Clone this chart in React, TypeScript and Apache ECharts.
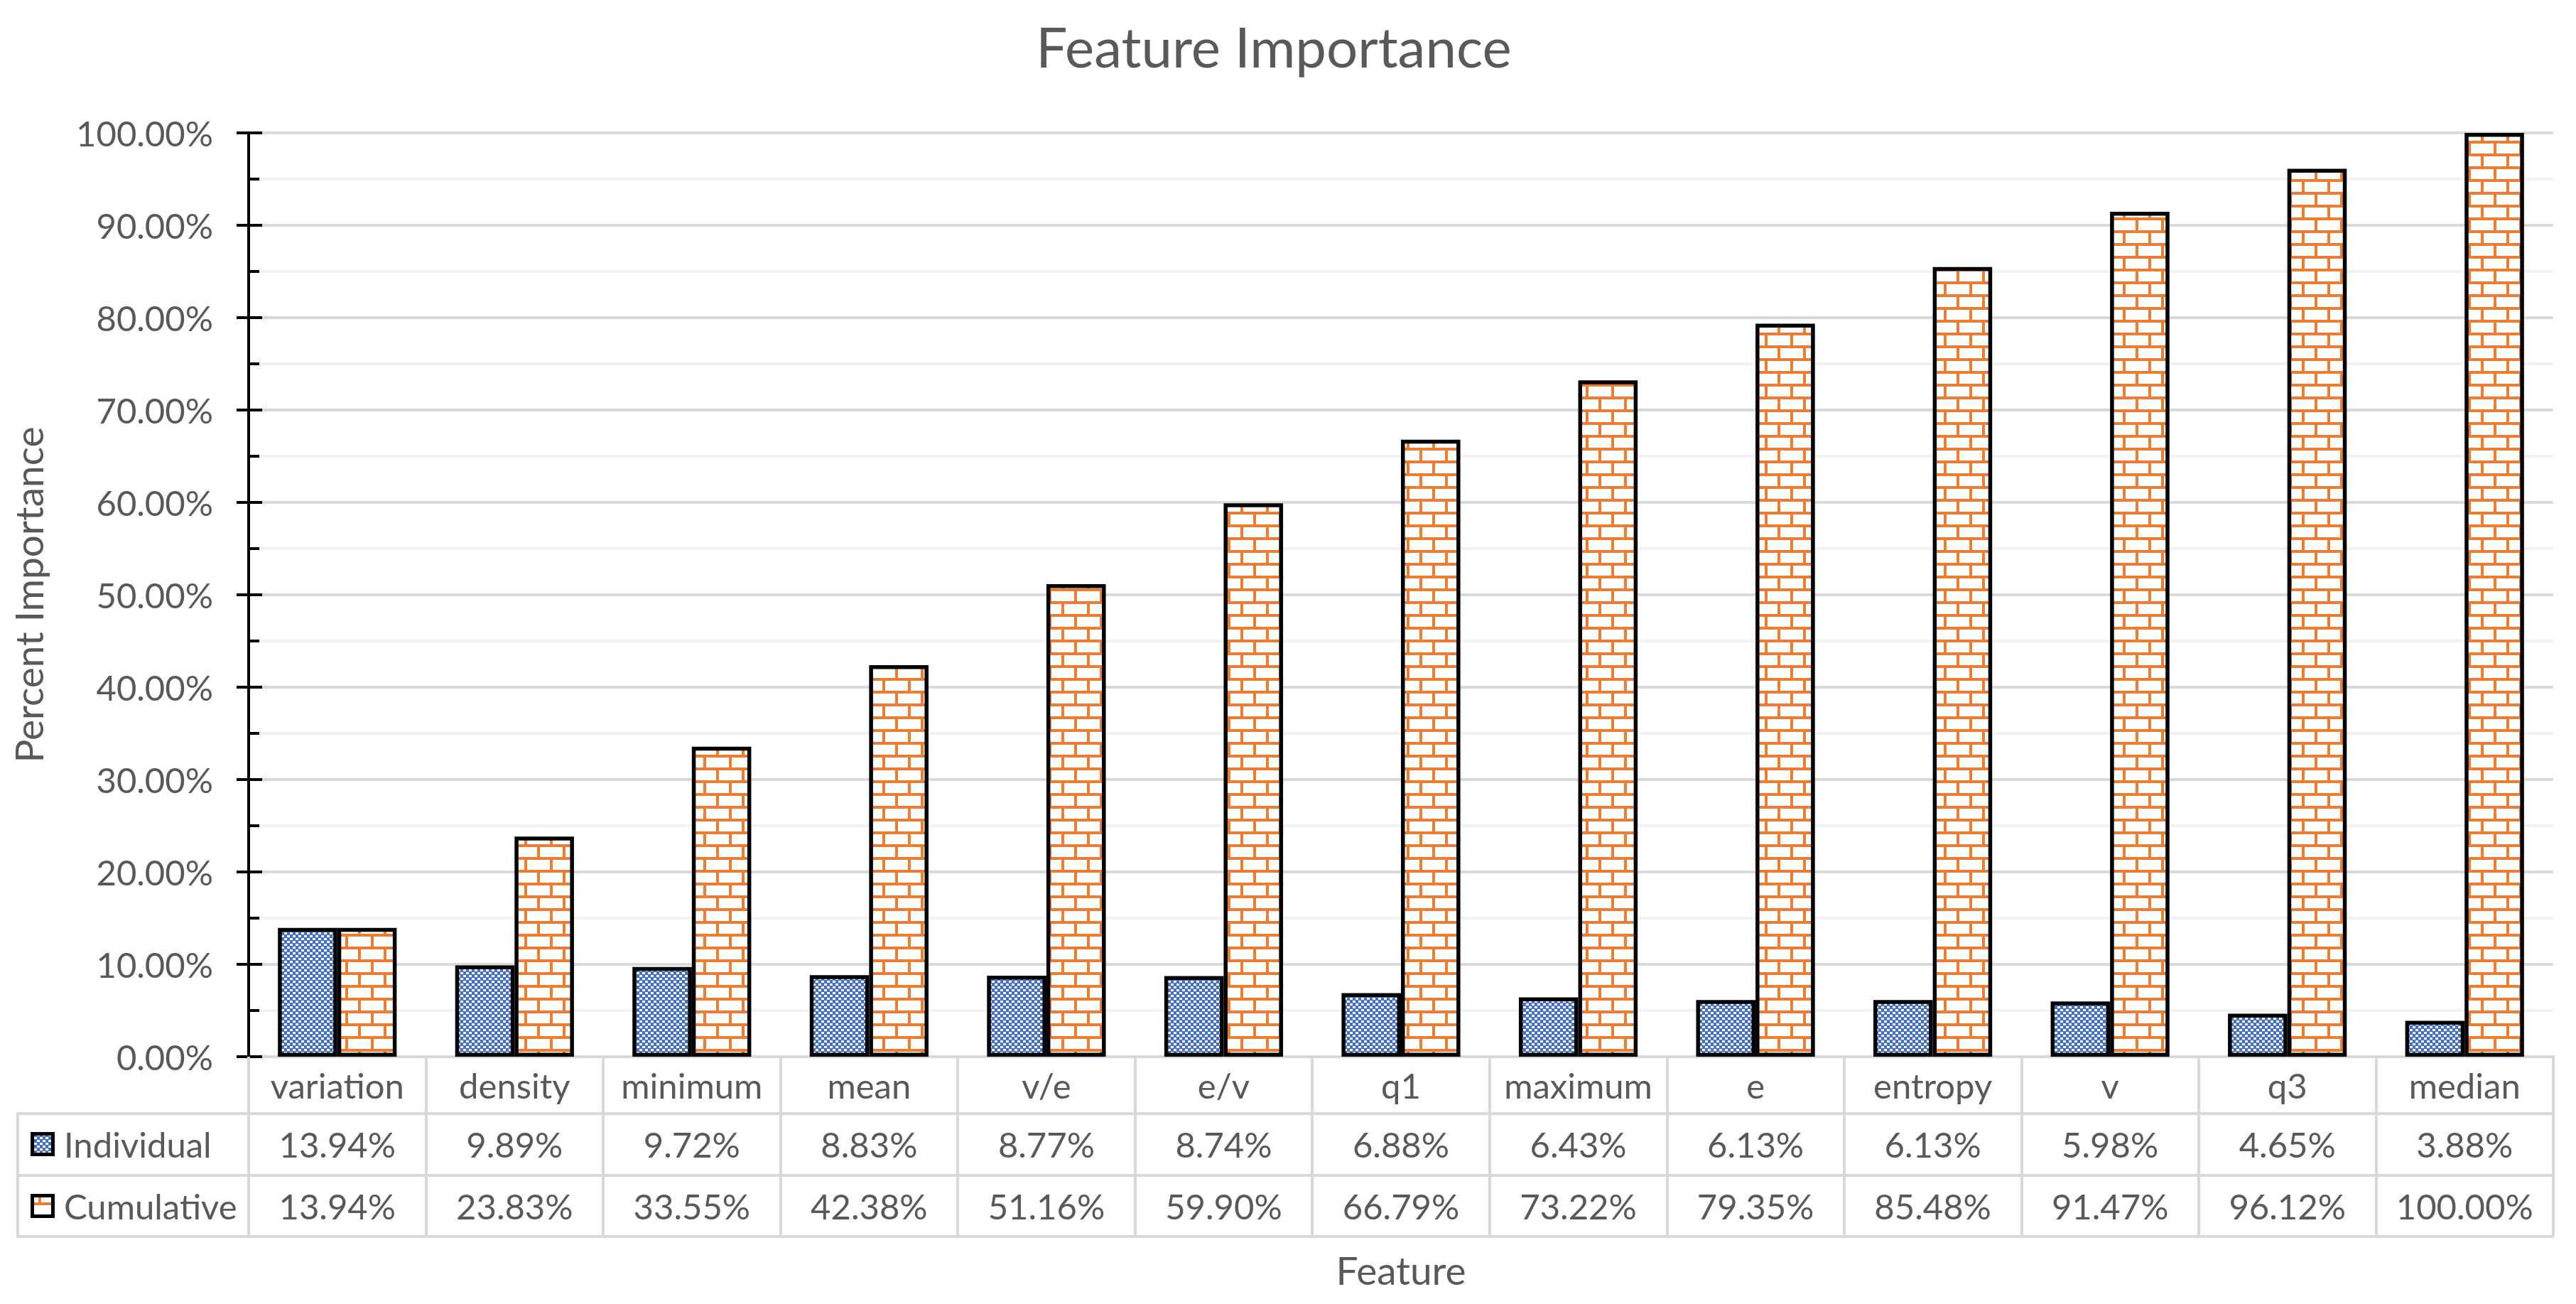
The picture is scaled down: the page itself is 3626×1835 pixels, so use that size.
import React, { useEffect, useRef } from "react";
import * as echarts from "echarts";

const categories = ["variation", "density", "minimum", "mean", "v/e", "e/v", "q1", "maximum", "e", "entropy", "v", "q3", "median"];
const individual = [13.94, 9.89, 9.72, 8.83, 8.77, 8.74, 6.88, 6.43, 6.13, 6.13, 5.98, 4.65, 3.88];
const cumulative = [13.94, 23.83, 33.55, 42.38, 51.16, 59.9, 66.79, 73.22, 79.35, 85.48, 91.47, 96.12, 100.0];
const seriesNames = ["Individual", "Cumulative"];
const titleText = "Feature Importance";
const yTitle = "Percent Importance";
const xTitle = "Feature";

const FONT = "Lato";
const TXT = "#595959";
const GRID = "#D9D9D9";

function makeBrick(): HTMLCanvasElement {
  const c = document.createElement("canvas");
  c.width = 36;
  c.height = 36;
  const g = c.getContext("2d")!;
  g.fillStyle = "#ffffff";
  g.fillRect(0, 0, 36, 36);
  g.fillStyle = "#ED7D31";
  g.fillRect(0, 0, 36, 4);
  g.fillRect(0, 18, 36, 4);
  g.fillRect(0, 4, 4, 14);
  g.fillRect(18, 22, 4, 14);
  return c;
}

function makeChecker(): HTMLCanvasElement {
  const c = document.createElement("canvas");
  c.width = 8;
  c.height = 8;
  const g = c.getContext("2d")!;
  g.fillStyle = "#4472C4";
  g.fillRect(0, 0, 8, 8);
  g.fillStyle = "#ffffff";
  g.fillRect(0, 0, 4, 3);
  g.fillRect(4, 4, 4, 3);
  return c;
}

export default function App() {
  const ref = useRef<HTMLDivElement>(null);
  useEffect(() => {
    if (!ref.current) return;
    const chart = echarts.init(ref.current, null, { renderer: "svg" });
    const brick = makeBrick();
    const checker = makeChecker();
    const bluePattern: any = { image: checker, repeat: "repeat", imageWidth: 8, imageHeight: 8 };
    const brickPattern: any = { image: brick, repeat: "repeat", imageWidth: 36, imageHeight: 36 };
    const patterns = [bluePattern, brickPattern];

    const labelStyle = { fontSize: 49, color: TXT, fontFamily: FONT };
    const fmt = (v: number) => v.toFixed(2) + "%";

    const xAx = (offset: number, tickLen: number, labels: string[] | null, margin: number) => ({
      type: "category",
      data: categories,
      position: "bottom",
      offset,
      axisLine: { show: true, onZero: false, lineStyle: { color: GRID, width: 4 } },
      axisTick: { show: tickLen > 0, interval: 0, length: tickLen, lineStyle: { color: GRID, width: 4 } },
      axisLabel: {
        show: labels !== null,
        interval: 0,
        margin,
        verticalAlign: "middle",
        ...labelStyle,
        formatter: (v: string, i: number) => (labels ? labels[i] : v),
      },
      splitLine: { show: false },
    });

    const legendRows = [1610, 1697];
    const legendGraphics: any[] = [];
    seriesNames.forEach((name, i) => {
      legendGraphics.push({
        type: "rect",
        shape: { x: 45.5, y: legendRows[i] - 14.5, width: 29, height: 29 },
        style: { fill: patterns[i], stroke: "#000000", lineWidth: 5 },
        silent: true,
      });
      legendGraphics.push({
        type: "text",
        x: 90,
        y: legendRows[i],
        style: { text: name, fontSize: 49, fontFamily: FONT, fill: TXT, align: "left", verticalAlign: "middle" },
        silent: true,
      });
    });

    const option: any = {
      animation: false,
      backgroundColor: "#ffffff",
      textStyle: { fontFamily: FONT },
      grid: { left: 350, right: 32, top: 187, bottom: 348, containLabel: false },
      xAxis: [
        xAx(0, 80, categories, 40),
        xAx(80, 87, individual.map(fmt), 43),
        xAx(167, 86, cumulative.map(fmt), 43),
        xAx(253, 0, null, 10),
      ],
      yAxis: [
        {
          type: "value",
          min: 0,
          max: 100,
          interval: 10,
          position: "left",
          axisLine: { show: true, lineStyle: { color: "#000000", width: 4 } },
          axisTick: { show: true, inside: false, length: 17, lineStyle: { color: "#000000", width: 4 } },
          minorTick: { show: false, splitNumber: 2 },
          axisLabel: { ...labelStyle, margin: 50, formatter: (v: number) => fmt(v) },
          splitLine: { show: true, lineStyle: { color: GRID, width: 4 } },
          minorSplitLine: { show: true, lineStyle: { color: "#F2F2F2", width: 4 } },
        },
        {
          type: "value",
          min: 0,
          max: 100,
          interval: 10,
          position: "left",
          offset: 0,
          axisLine: { show: false },
          axisTick: { show: true, inside: true, length: 19, lineStyle: { color: "#000000", width: 4 } },
          minorTick: { show: true, splitNumber: 2, length: 15, lineStyle: { color: "#000000", width: 4 } },
          axisLabel: { show: false },
          splitLine: { show: false },
        },
      ],
      series: [
        {
          name: seriesNames[0],
          type: "bar",
          data: individual,
          xAxisIndex: 0,
          yAxisIndex: 0,
          barGap: "0%",
          barCategoryGap: "33%",
          itemStyle: { color: bluePattern, borderColor: "#000000", borderWidth: 5.5 },
        },
        {
          name: seriesNames[1],
          type: "bar",
          data: cumulative,
          xAxisIndex: 0,
          yAxisIndex: 0,
          barGap: "0%",
          barCategoryGap: "33%",
          itemStyle: { color: brickPattern, borderColor: "#000000", borderWidth: 5.5 },
        },
      ],
      graphic: [
        {
          type: "rect",
          shape: { x: 25, y: 1567, width: 325, height: 173 },
          style: { fill: "none", stroke: GRID, lineWidth: 4 },
          silent: true,
        },
        {
          type: "line",
          shape: { x1: 25, y1: 1654, x2: 350, y2: 1654 },
          style: { stroke: GRID, lineWidth: 4 },
          silent: true,
        },
        ...legendGraphics,
        {
          type: "text",
          x: 1793,
          y: 65,
          style: { text: titleText, fontSize: 78, fontFamily: FONT, fill: TXT, align: "center", verticalAlign: "middle" },
        },
        {
          type: "text",
          x: 40,
          y: 837,
          rotation: Math.PI / 2,
          style: { text: yTitle, fontSize: 55, fontFamily: FONT, fill: TXT, align: "center", verticalAlign: "middle" },
        },
        {
          type: "text",
          x: 1972,
          y: 1787,
          style: { text: xTitle, fontSize: 55, fontFamily: FONT, fill: TXT, align: "center", verticalAlign: "middle" },
        },
      ],
    };
    chart.setOption(option);
    return () => chart.dispose();
  }, []);
  return (
    <div
      ref={ref}
      style={{ position: "fixed", left: 0, top: 0, width: 3626, height: 1835, background: "#ffffff" }}
    />
  );
}
